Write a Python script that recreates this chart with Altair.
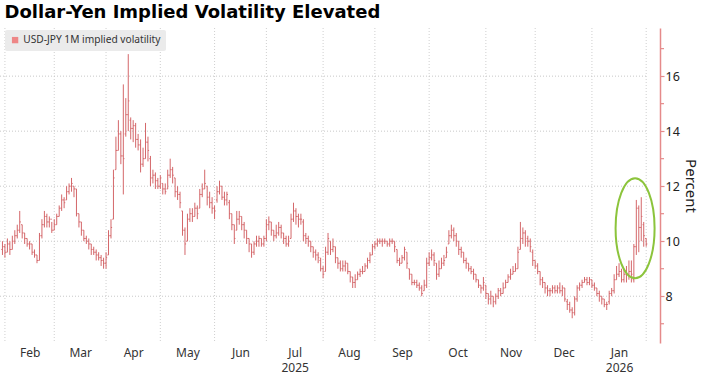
import altair as alt
import pandas as pd

TITLE = "Dollar-Yen Implied Volatility Elevated"
SERIES = "USD-JPY 1M implied volatility"
FIRST_DAY = "2025-01-31"   # first trading day shown; bars are placed on business days

OPEN = [
    9.7, 9.8, 9.6, 9.9, 9.7, 10.0, 10.2, 10.4, 10.6, 10.3,
    10.1, 9.9, 9.9, 9.6, 9.5, 9.3, 10.2, 10.6, 10.9, 10.7,
    10.8, 10.4, 10.6, 10.9, 11.2, 11.5, 11.5, 11.8, 12.0, 12.0,
    11.9, 11.0, 10.7, 10.4, 10.1, 10.0, 9.9, 9.7, 9.6, 9.5,
    9.4, 9.3, 9.2, 9.5, 10.2, 10.8, 12.6, 13.3, 13.9, 13.1,
    13.9, 14.6, 14.4, 14.1, 14.2, 13.7, 13.5, 12.8, 13.0, 13.6,
    13.0, 12.3, 12.4, 12.2, 12.0, 12.1, 11.9, 11.9, 12.4, 12.6,
    12.3, 11.8, 11.7, 11.1, 10.4, 10.0, 10.8, 11.0, 10.9, 11.2,
    11.2, 11.7, 11.9, 12.0, 11.6, 11.4, 11.2, 11.5, 11.8, 12.0,
    11.6, 11.5, 11.4, 11.0, 10.6, 10.4, 10.8, 10.9, 10.6, 10.4,
    10.1, 9.9, 9.6, 9.9, 10.0, 10.1, 9.9, 10.1, 10.6, 10.7,
    10.4, 10.2, 10.3, 10.5, 10.3, 10.1, 9.9, 10.1, 10.8, 11.1,
    10.9, 10.8, 10.7, 10.2, 10.1, 10.0, 9.8, 9.6, 9.5, 9.3,
    9.0, 8.9, 9.6, 10.0, 9.7, 9.8, 9.4, 9.2, 9.0, 9.1,
    9.2, 8.9, 8.7, 8.5, 8.6, 8.8, 8.9, 8.9, 9.1, 9.3,
    9.5, 9.8, 9.9, 10.0, 10.0, 10.0, 10.0, 9.9, 10.0, 10.0,
    9.7, 9.3, 9.2, 9.4, 9.6, 9.0, 8.8, 8.5, 8.5, 8.4,
    8.3, 8.2, 8.4, 9.2, 9.4, 9.5, 9.2, 8.8, 9.0, 9.2,
    9.4, 9.9, 10.2, 10.4, 10.2, 10.0, 9.7, 9.6, 9.3, 9.2,
    9.0, 8.9, 8.8, 8.6, 8.4, 8.3, 8.4, 8.1, 7.9, 8.0,
    7.8, 8.0, 8.2, 8.1, 8.3, 8.5, 8.7, 8.8, 8.9, 9.0,
    9.7, 10.1, 10.3, 10.1, 10.0, 9.6, 9.3, 9.1, 8.9, 8.6,
    8.5, 8.3, 8.2, 8.2, 8.3, 8.2, 8.3, 8.2, 8.3, 7.8,
    7.7, 7.5, 7.4, 7.9, 8.3, 8.4, 8.5, 8.6, 8.5, 8.6,
    8.4, 8.3, 8.1, 8.0, 7.9, 7.7, 7.8, 8.1, 8.2, 8.6,
    8.8, 8.9, 8.6, 8.8, 8.8, 8.9, 8.6, 9.8, 11.2, 10.5,
    10.6, 10.1,
]
HIGH = [
    10.0, 9.9, 10.1, 10.0, 10.2, 10.4, 10.6, 11.1, 10.6, 10.3,
    10.1, 10.0, 9.9, 9.7, 9.5, 10.3, 10.8, 11.1, 11.0, 10.9,
    10.7, 10.8, 11.0, 11.3, 11.7, 11.6, 12.0, 12.1, 12.3, 12.0,
    11.9, 11.0, 10.7, 10.4, 10.2, 10.1, 9.9, 9.8, 9.7, 9.6,
    9.5, 9.4, 9.6, 10.4, 10.8, 12.6, 13.8, 14.4, 14.0, 15.7,
    15.2, 16.8, 14.5, 14.4, 14.3, 13.9, 13.7, 13.4, 14.3, 13.8,
    13.1, 12.6, 12.5, 12.3, 12.4, 12.1, 12.1, 12.6, 13.0, 12.7,
    12.3, 12.0, 11.8, 11.1, 10.5, 11.0, 11.2, 11.2, 11.4, 11.3,
    11.9, 12.1, 12.6, 12.0, 11.8, 11.6, 11.3, 12.0, 12.2, 12.0,
    11.8, 11.8, 11.5, 11.0, 10.6, 11.1, 11.1, 10.9, 10.7, 10.4,
    10.1, 9.9, 10.0, 10.2, 10.2, 10.1, 10.2, 10.8, 10.9, 10.7,
    10.4, 10.6, 10.7, 10.6, 10.3, 10.2, 10.2, 11.0, 11.4, 11.2,
    11.0, 11.0, 10.8, 10.3, 10.2, 10.0, 9.8, 9.7, 9.6, 9.4,
    9.1, 9.8, 10.3, 10.0, 10.1, 9.8, 9.4, 9.3, 9.3, 9.3,
    9.2, 8.9, 8.7, 8.8, 8.9, 9.0, 9.1, 9.2, 9.4, 9.6,
    9.9, 10.0, 10.1, 10.1, 10.1, 10.1, 10.0, 10.1, 10.1, 10.0,
    9.7, 9.4, 9.5, 9.8, 9.6, 9.0, 8.8, 8.6, 8.6, 8.5,
    8.4, 8.6, 9.4, 9.6, 9.7, 9.6, 9.2, 9.3, 9.4, 9.5,
    9.8, 10.4, 10.6, 10.5, 10.3, 10.0, 9.8, 9.6, 9.4, 9.2,
    9.1, 9.0, 8.8, 8.6, 8.4, 8.7, 8.4, 8.1, 8.2, 8.0,
    8.1, 8.3, 8.3, 8.5, 8.6, 8.8, 9.0, 9.1, 9.2, 9.8,
    10.7, 10.5, 10.4, 10.2, 10.1, 9.7, 9.3, 9.2, 8.9, 8.7,
    8.5, 8.4, 8.3, 8.4, 8.4, 8.4, 8.5, 8.4, 8.3, 7.9,
    7.8, 7.6, 8.0, 8.4, 8.5, 8.6, 8.7, 8.7, 8.7, 8.6,
    8.5, 8.3, 8.2, 8.0, 7.9, 7.8, 8.2, 8.3, 8.8, 9.1,
    9.2, 9.0, 9.0, 9.1, 9.3, 9.3, 9.9, 11.5, 11.3, 11.6,
    10.7, 10.1,
]
LOW = [
    9.5, 9.4, 9.6, 9.5, 9.7, 9.9, 10.1, 10.3, 10.1, 9.9,
    9.8, 9.7, 9.5, 9.4, 9.2, 9.3, 10.1, 10.5, 10.5, 10.5,
    10.3, 10.4, 10.6, 10.9, 11.1, 11.2, 11.5, 11.7, 11.8, 11.6,
    10.9, 10.5, 10.2, 10.0, 9.9, 9.7, 9.5, 9.5, 9.3, 9.3,
    9.1, 9.0, 9.0, 9.5, 10.1, 10.8, 12.6, 13.3, 12.8, 11.7,
    13.8, 14.0, 13.7, 13.6, 13.4, 13.3, 12.5, 12.7, 13.0, 12.9,
    12.0, 12.1, 11.9, 11.9, 11.9, 11.7, 11.7, 11.9, 12.3, 12.1,
    11.6, 11.5, 11.2, 10.2, 9.5, 10.0, 10.7, 10.7, 10.9, 10.8,
    11.2, 11.6, 11.9, 11.3, 11.2, 11.0, 10.8, 11.4, 11.7, 11.5,
    11.3, 11.3, 10.8, 10.4, 9.9, 10.4, 10.6, 10.4, 10.1, 9.9,
    9.6, 9.4, 9.5, 9.8, 9.8, 9.8, 9.8, 10.0, 10.4, 10.2,
    10.0, 10.1, 10.2, 10.1, 9.9, 9.8, 9.8, 10.1, 10.7, 10.6,
    10.5, 10.6, 10.0, 9.9, 9.8, 9.6, 9.4, 9.3, 9.2, 8.9,
    8.65, 8.9, 9.5, 9.5, 9.6, 9.2, 9.0, 8.9, 8.9, 8.9,
    8.8, 8.5, 8.3, 8.3, 8.6, 8.7, 8.8, 8.9, 9.0, 9.2,
    9.5, 9.7, 9.8, 9.9, 9.8, 9.9, 9.8, 9.8, 9.9, 9.6,
    9.2, 9.1, 9.2, 9.3, 9.0, 8.6, 8.4, 8.4, 8.3, 8.2,
    8.0, 8.2, 8.3, 9.1, 9.3, 9.1, 8.6, 8.7, 9.0, 9.1,
    9.4, 9.9, 10.1, 10.0, 9.8, 9.5, 9.4, 9.2, 9.0, 8.9,
    8.8, 8.6, 8.5, 8.3, 8.1, 8.2, 7.9, 7.7, 7.7, 7.6,
    7.7, 7.9, 8.0, 8.1, 8.3, 8.5, 8.6, 8.8, 8.9, 9.0,
    9.7, 9.9, 9.8, 9.8, 9.6, 9.1, 9.0, 8.8, 8.4, 8.3,
    8.1, 8.0, 8.0, 8.1, 8.1, 8.1, 8.1, 8.0, 7.8, 7.5,
    7.4, 7.2, 7.3, 7.8, 8.2, 8.3, 8.5, 8.4, 8.4, 8.3,
    8.2, 8.0, 7.8, 7.7, 7.6, 7.5, 7.7, 8.0, 8.1, 8.6,
    8.7, 8.5, 8.5, 8.5, 8.6, 8.5, 8.5, 9.5, 9.6, 10.0,
    9.8, 9.8,
]
CLOSE = [
    9.8, 9.6, 9.9, 9.7, 10.0, 10.2, 10.4, 10.7, 10.3, 10.1,
    9.9, 9.9, 9.6, 9.5, 9.3, 10.2, 10.6, 10.9, 10.7, 10.8,
    10.4, 10.6, 10.9, 11.2, 11.5, 11.4, 11.8, 12.0, 12.1, 11.9,
    11.0, 10.7, 10.4, 10.1, 10.0, 9.9, 9.7, 9.6, 9.5, 9.4,
    9.3, 9.2, 9.4, 10.2, 10.5, 12.3, 13.3, 13.9, 13.1, 13.0,
    14.6, 15.1, 14.1, 14.2, 13.7, 13.5, 12.8, 13.0, 13.6, 13.3,
    12.3, 12.4, 12.2, 12.0, 12.3, 11.9, 11.8, 12.4, 12.6, 12.4,
    11.8, 11.7, 11.4, 10.4, 9.9, 10.8, 11.0, 10.9, 11.2, 11.0,
    11.7, 11.9, 12.1, 11.6, 11.4, 11.2, 11.1, 11.8, 12.0, 11.6,
    11.5, 11.7, 11.0, 10.6, 10.1, 10.8, 10.9, 10.6, 10.4, 10.1,
    9.9, 9.6, 9.9, 10.0, 10.1, 9.9, 10.1, 10.6, 10.7, 10.4,
    10.2, 10.3, 10.5, 10.3, 10.1, 9.9, 10.0, 10.8, 11.1, 10.9,
    10.8, 10.8, 10.2, 10.1, 10.0, 9.8, 9.6, 9.5, 9.4, 9.0,
    8.8, 9.6, 10.1, 9.7, 9.8, 9.4, 9.2, 9.0, 9.1, 9.2,
    8.9, 8.7, 8.5, 8.6, 8.8, 8.9, 8.9, 9.1, 9.3, 9.5,
    9.8, 9.9, 10.0, 10.0, 10.0, 10.0, 9.9, 10.0, 10.0, 9.8,
    9.3, 9.2, 9.4, 9.7, 9.2, 8.8, 8.5, 8.5, 8.4, 8.3,
    8.1, 8.4, 9.2, 9.4, 9.5, 9.3, 8.8, 9.0, 9.2, 9.3,
    9.6, 10.2, 10.4, 10.2, 10.0, 9.7, 9.6, 9.3, 9.2, 9.0,
    8.9, 8.8, 8.6, 8.4, 8.3, 8.5, 8.1, 7.9, 8.0, 7.8,
    8.0, 8.2, 8.1, 8.3, 8.5, 8.7, 8.8, 8.9, 9.0, 9.6,
    10.1, 10.3, 10.0, 10.0, 9.8, 9.3, 9.1, 8.9, 8.6, 8.5,
    8.3, 8.2, 8.2, 8.3, 8.2, 8.3, 8.2, 8.3, 7.9, 7.7,
    7.5, 7.4, 7.9, 8.3, 8.4, 8.5, 8.6, 8.5, 8.6, 8.4,
    8.3, 8.1, 8.0, 7.9, 7.7, 7.7, 8.1, 8.2, 8.6, 8.8,
    8.9, 8.6, 8.8, 8.8, 8.9, 8.8, 9.8, 11.2, 10.5, 10.9,
    10.2, 9.9,
]

MONTH_STARTS = ["2025-02-01", "2025-03-01", "2025-04-01", "2025-05-01", "2025-06-01",
                "2025-07-01", "2025-08-01", "2025-09-01", "2025-10-01", "2025-11-01",
                "2025-12-01", "2026-01-01", "2026-02-01"]
MONTH_LABELS = [["Feb"], ["Mar"], ["Apr"], ["May"], ["Jun"], ["Jul", "2025"], ["Aug"],
                ["Sep"], ["Oct"], ["Nov"], ["Dec"], ["Jan", "2026"]]
Y_MAJOR = [8, 10, 12, 14, 16]          # labelled ticks and gridlines
Y_MINOR = [7, 9, 11, 13, 15, 17]       # unlabelled ticks
Y_DOMAIN = [6.3, 17.75]
HIGHLIGHT_DAY = 256.5      # business-day position of the circled spike
HIGHLIGHT_VALUE = 10.47

BAR_COLOR = "#d4676a"
AXIS_COLOR = "#e58a8a"
LEGEND_COLOR = "#f05c5c"
GREEN = "#8cc43c"
FONT = "Noto Sans"
PLOT_W, PLOT_H = 660, 315
TICK = 4

# ---- tables -------------------------------------------------------------
n = len(CLOSE)
days = pd.bdate_range(FIRST_DAY, periods=n)
bars = pd.DataFrame({"day": range(n), "date": days.strftime("%Y-%m-%d"),
                     "open": OPEN, "high": HIGH, "low": LOW, "close": CLOSE})

all_days = pd.bdate_range(FIRST_DAY, "2026-03-31")
starts = [int(all_days.searchsorted(pd.Timestamp(d))) for d in MONTH_STARTS]
mids = [(starts[k] + starts[k + 1]) / 2 for k in range(len(starts) - 1)]
x_domain = [-1.0, 266.6]

vgrid = pd.DataFrame({"day": starts})
hgrid = pd.DataFrame({"v": Y_MAJOR, "x0": x_domain[0], "x1": starts[-1]})
minor = pd.DataFrame({"v": Y_MINOR})


def key(v):
    return str(int(v)) if float(v).is_integer() else repr(float(v))


expr = "''"
for m, lab in reversed(list(zip(mids, MONTH_LABELS))):
    arr = "[" + ",".join("'" + s + "'" for s in lab) + "]"
    expr = f"datum.value === {key(m)} ? {arr} : ({expr})"

xscale = alt.Scale(domain=x_domain, nice=False, zero=False)
yscale = alt.Scale(domain=Y_DOMAIN, nice=False, zero=False)

x_axis = alt.Axis(values=mids, labelExpr=expr, grid=False, ticks=False, domain=False,
                  title=None, labelFont=FONT, labelFontSize=12, labelColor="#333333",
                  labelPadding=4, labelLineHeight=15, labelOverlap=False, labelFlush=False)
y_axis = alt.Axis(orient="right", values=Y_MAJOR, format="d",
                  labelOverlap=False, labelFlush=False,
                  grid=False, domainColor=AXIS_COLOR, domainWidth=1.5,
                  tickColor=AXIS_COLOR, tickWidth=1.2, tickSize=TICK,
                  labelPadding=1, labelFont=FONT, labelFontSize=12.5, labelColor="#222222",
                  title="Percent", titleFont=FONT, titleFontSize=15,
                  titleFontWeight="normal", titleColor="#222222", titlePadding=3,
                  titleAngle=90)

base = alt.Chart(bars)

vlines = alt.Chart(vgrid).mark_rule(color="#cfcfcf", strokeDash=[1, 2], strokeWidth=1).encode(
    x=alt.X("day:Q", scale=xscale, axis=x_axis)
)
hlines = alt.Chart(hgrid).mark_rule(color="#c8c8c8", strokeDash=[1, 2], strokeWidth=1).encode(
    x=alt.X("x0:Q", scale=xscale),
    x2="x1:Q",
    y=alt.Y("v:Q", scale=yscale, axis=y_axis),
)
minor_ticks = alt.Chart(minor).mark_rule(color=AXIS_COLOR, strokeWidth=1.2).encode(
    x=alt.value(PLOT_W), x2=alt.value(PLOT_W + TICK),
    y=alt.Y("v:Q", scale=yscale),
)

hl = base.mark_rule(color=BAR_COLOR, strokeWidth=1).encode(
    x=alt.X("day:Q", scale=xscale),
    y=alt.Y("low:Q", scale=yscale),
    y2="high:Q",
)
open_tick = base.transform_calculate(left="datum.day - 0.45").mark_rule(
    color=BAR_COLOR, strokeWidth=1).encode(
    x=alt.X("left:Q", scale=xscale), x2="day:Q", y=alt.Y("open:Q", scale=yscale)
)
close_tick = base.transform_calculate(right="datum.day + 0.45").mark_rule(
    color=BAR_COLOR, strokeWidth=1).encode(
    x=alt.X("day:Q", scale=xscale), x2="right:Q", y=alt.Y("close:Q", scale=yscale)
)

ellipse_path = "M -0.39 0 A 0.39 1 0 1 0 0.39 0 A 0.39 1 0 1 0 -0.39 0 Z"
ellipse = alt.Chart(pd.DataFrame({"day": [HIGHLIGHT_DAY], "v": [HIGHLIGHT_VALUE]})).mark_point(
    shape=ellipse_path, size=10000, filled=False, stroke=GREEN, strokeWidth=2, opacity=1
).encode(x=alt.X("day:Q", scale=xscale), y=alt.Y("v:Q", scale=yscale))

legend_layer = alt.Chart(pd.DataFrame({"series": pd.Series([], dtype=str)})).mark_square().encode(
    color=alt.Color("series:N", scale=alt.Scale(domain=[SERIES], range=[LEGEND_COLOR]),
                    legend=alt.Legend(orient="none", legendX=5, legendY=2, title=None,
                                      fillColor="#ebebeb", padding=5, cornerRadius=2,
                                      symbolType="square", symbolSize=40,
                                      symbolStrokeWidth=0, labelFont=FONT,
                                      labelFontSize=10.2, labelColor="#333333",
                                      labelOffset=3, labelLimit=400))
)

chart = alt.layer(vlines, hlines, minor_ticks, hl, open_tick, close_tick, ellipse,
                  legend_layer).properties(
    width=PLOT_W, height=PLOT_H,
    title=alt.TitleParams(TITLE, anchor="start", font="DejaVu Sans", fontSize=18,
                          fontWeight="bold", color="#000000", dx=5, offset=6),
    autosize=alt.AutoSizeParams(type="none"),
    padding={"left": 0, "top": 28, "right": 45, "bottom": 33},
    background="white",
).configure_view(stroke=None).configure_axisY(labelOverlap=False)

chart.save("out.html", embed_options={"renderer": "svg", "actions": False})
